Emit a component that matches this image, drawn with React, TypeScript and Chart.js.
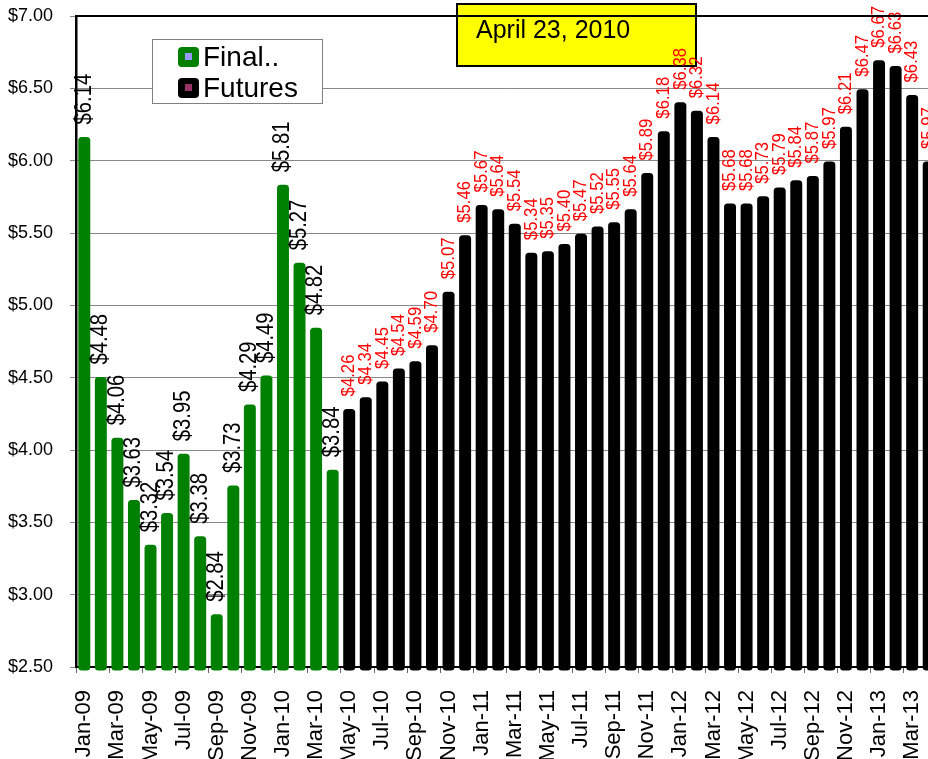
import React, { useEffect, useRef } from "react";
import { Chart, registerables } from "chart.js";

Chart.register(...registerables);

const categories = [
  "Jan-09", "Feb-09", "Mar-09", "Apr-09", "May-09", "Jun-09", "Jul-09", "Aug-09",
  "Sep-09", "Oct-09", "Nov-09", "Dec-09", "Jan-10", "Feb-10", "Mar-10", "Apr-10",
  "May-10", "Jun-10", "Jul-10", "Aug-10", "Sep-10", "Oct-10", "Nov-10", "Dec-10",
  "Jan-11", "Feb-11", "Mar-11", "Apr-11", "May-11", "Jun-11", "Jul-11", "Aug-11",
  "Sep-11", "Oct-11", "Nov-11", "Dec-11", "Jan-12", "Feb-12", "Mar-12", "Apr-12",
  "May-12", "Jun-12", "Jul-12", "Aug-12", "Sep-12", "Oct-12", "Nov-12", "Dec-12",
  "Jan-13", "Feb-13", "Mar-13", "Apr-13",
];

const finalValues = [
  6.14, 4.48, 4.06, 3.63, 3.32, 3.54, 3.95, 3.38, 2.84, 3.73, 4.29, 4.49, 5.81, 5.27, 4.82, 3.84,
];

const futuresValues = [
  4.26, 4.34, 4.45, 4.54, 4.59, 4.70, 5.07, 5.46, 5.67, 5.64, 5.54, 5.34, 5.35, 5.40, 5.47, 5.52,
  5.55, 5.64, 5.89, 6.18, 6.38, 6.32, 6.14, 5.68, 5.68, 5.73, 5.79, 5.84, 5.87, 5.97, 6.21, 6.47,
  6.67, 6.63, 6.43, 5.97,
];

const seriesNames = ["Final..", "Futures"];
const dateLabel = "April 23, 2010";

const yMin = 2.5;
const yMax = 7;
const yStep = 0.5;

const GREEN = "#008000";
const BLACK = "#000000";
const FONT = "'Liberation Sans', Arial, sans-serif";

const finalData = categories.map((_, i) => (i < finalValues.length ? finalValues[i] : null));
const futuresData = categories.map((_, i) =>
  i >= finalValues.length ? futuresValues[i - finalValues.length] : null
);

const fmt = (v: number) => "$" + v.toFixed(2);

const decorPlugin = {
  id: "decor",
  beforeDatasetsDraw(chart: any) {
    const ctx = chart.ctx;
    // date box
    ctx.save();
    ctx.fillStyle = "#FFFF00";
    ctx.fillRect(457, 4, 239, 62);
    ctx.lineWidth = 2;
    ctx.strokeStyle = "#000";
    ctx.strokeRect(457, 4, 239, 62);
    ctx.fillStyle = "#000";
    ctx.font = "25px " + FONT;
    ctx.textAlign = "left";
    ctx.textBaseline = "alphabetic";
    ctx.fillText(dateLabel, 476, 38);
    ctx.restore();

    // legend
    ctx.save();
    ctx.fillStyle = "#fff";
    ctx.fillRect(152, 39, 170, 64);
    ctx.lineWidth = 1;
    ctx.strokeStyle = "#808080";
    ctx.strokeRect(152.5, 39.5, 170, 64);
    const items = [
      { color: GREEN, inner: "#9999FF", cy: 57 },
      { color: BLACK, inner: "#993366", cy: 88 },
    ];
    items.forEach((it, i) => {
      const label = chart.data.datasets[i].label;
      ctx.fillStyle = it.color;
      ctx.beginPath();
      (ctx as any).roundRect(178, it.cy - 10, 21, 20, 4);
      ctx.fill();
      ctx.fillStyle = it.inner;
      ctx.fillRect(185, it.cy - 4, 7, 7);
      ctx.fillStyle = "#000";
      ctx.font = "28px " + FONT;
      ctx.textAlign = "left";
      ctx.textBaseline = "middle";
      ctx.fillText(label, 203, it.cy + 1);
    });
    ctx.restore();
  },
  afterDatasetsDraw(chart: any) {
    const ctx = chart.ctx;
    const area = chart.chartArea;
    // thick rounded outlines of bars
    chart.data.datasets.forEach((ds: any, di: number) => {
      const meta = chart.getDatasetMeta(di);
      meta.data.forEach((el: any, i: number) => {
        if (ds.data[i] == null) return;
        const { x, y, base, width } = el.getProps(["x", "y", "base", "width"], true);
        const b = Math.min(base, area.bottom);
        ctx.save();
        ctx.strokeStyle = ds.backgroundColor;
        ctx.fillStyle = ds.backgroundColor;
        ctx.lineWidth = 7;
        ctx.lineJoin = "round";
        ctx.fillRect(x - width / 2, y, width, b - y);
        ctx.strokeRect(x - width / 2, y, width, b - y);
        ctx.restore();
      });
    });
    // value labels
    chart.data.datasets.forEach((ds: any, di: number) => {
      const meta = chart.getDatasetMeta(di);
      meta.data.forEach((el: any, i: number) => {
        const v = ds.data[i];
        if (v == null) return;
        const { x, y } = el.getProps(["x", "y"], true);
        ctx.save();
        ctx.translate(x, y - 16);
        ctx.rotate(-Math.PI / 2);
        ctx.scale(0.88, 1);
        ctx.fillStyle = di === 0 ? "#000" : "#FF0000";
        ctx.font = (di === 0 ? "23px " : "19px ") + FONT;
        ctx.textAlign = "left";
        ctx.textBaseline = "middle";
        ctx.fillText(fmt(v), 0, 0);
        ctx.restore();
      });
    });
  },
  afterDraw(chart: any) {
    const ctx = chart.ctx;
    const a = chart.chartArea;
    ctx.save();
    ctx.strokeStyle = "#000";
    ctx.lineWidth = 2;
    ctx.beginPath();
    ctx.moveTo(a.left, a.top);
    ctx.lineTo(a.right, a.top);
    ctx.lineTo(a.right, a.bottom);
    ctx.stroke();
    ctx.restore();
  },
};

export default function App() {
  const ref = useRef<HTMLCanvasElement | null>(null);

  useEffect(() => {
    if (!ref.current) return;
    const chart = new Chart(ref.current, {
      type: "bar",
      data: {
        labels: categories,
        datasets: [
          {
            label: seriesNames[0],
            data: finalData as any,
            backgroundColor: GREEN,
            barPercentage: 0.3,
            categoryPercentage: 1,
            grouped: false,
          } as any,
          {
            label: seriesNames[1],
            data: futuresData as any,
            backgroundColor: BLACK,
            barPercentage: 0.3,
            categoryPercentage: 1,
            grouped: false,
          } as any,
        ],
      },
      options: {
        animation: false,
        responsive: false,
        devicePixelRatio: 1,
        layout: { padding: { top: 16, right: 13, left: 0, bottom: 0 } },
        plugins: { legend: { display: false }, tooltip: { enabled: false } },
        scales: {
          x: {
            grid: {
              offset: true,
              drawOnChartArea: false,
              tickLength: 6,
              color: (c: any) => (c.index % 2 === 0 ? "#666" : "rgba(0,0,0,0)"),
            },
            border: { display: true, color: "#000", width: 2 },
            ticks: {
              autoSkip: false,
              maxRotation: 90,
              minRotation: 90,
              padding: 17,
              color: "#000",
              font: { family: FONT, size: 22 },
              callback: (_v: any, i: number) => (i % 2 === 0 ? categories[i] : ""),
            },
            afterFit: (s: any) => {
              s.height = 92;
              s.paddingLeft = 0;
              s.paddingRight = 0;
            },
          },
          y: {
            min: yMin,
            max: yMax,
            ticks: {
              stepSize: yStep,
              padding: 17,
              color: "#000",
              font: { family: FONT, size: 18 },
              callback: (v: any) => fmt(Number(v)),
            },
            grid: { color: "#888", tickLength: 6 },
            border: { display: true, color: "#000", width: 2.5 },
            afterFit: (s: any) => {
              s.width = 76;
              s.paddingTop = 0;
              s.paddingBottom = 0;
            },
          },
        },
      } as any,
      plugins: [decorPlugin],
    });
    return () => chart.destroy();
  }, []);

  return (
    <div
      style={{
        position: "absolute",
        left: 0,
        top: 0,
        width: 928,
        height: 759,
        overflow: "hidden",
        background: "#fff",
      }}
    >
      <canvas ref={ref} width={950} height={759} style={{ display: "block" }} />
    </div>
  );
}
